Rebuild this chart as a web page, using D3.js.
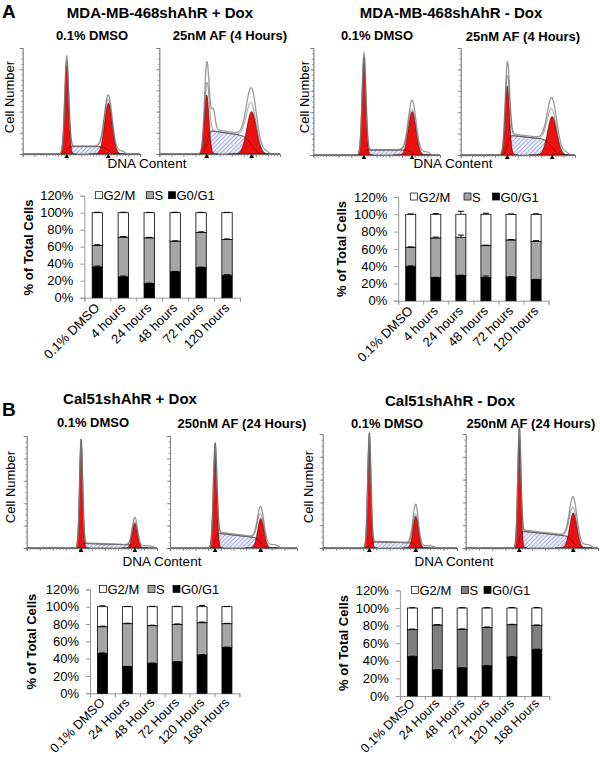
<!DOCTYPE html>
<html><head><meta charset="utf-8">
<script src="https://cdn.jsdelivr.net/npm/d3@7"></script>
<style>body{margin:0;background:#fff} svg{display:block} text{font-family:"Liberation Sans",Arial,Helvetica,sans-serif;fill:#000}</style>
</head><body><svg id="c" width="600" height="757"></svg>
<script>
// ---------------- DATA ----------------
const catsA = ["0.1% DMSO","4 hours","24 hours","48 hours","72 hours","120 hours"];
const catsB = ["0.1% DMSO","24 Hours","48 Hours","72 Hours","120 Hours","168 Hours"];
const phaseNames = ["G2/M","S","G0/G1"];
const yTickVals = [0,20,40,60,80,100,120];

// MDA-MB-468shAhR + Dox
const aPlusG1 = [36.2,24.5,16.7,30.4,35.4,26.5];
const aPlusS  = [25.3,46.7,53.7,36.1,41.3,42.0];
const aPlusG2 = [38.5,28.8,29.6,33.5,23.3,31.5];
const aPlusErrG1 = [1.0,1.0,0.5,0.5,0.6,0.5];
const aPlusErrS  = [0.8,0.8,0.6,0.4,0.8,0.6];
const aPlusErrG2 = [0.5,0.5,0.4,0.5,0.4,0.4];
// MDA-MB-468shAhR - Dox
const aMinusG1 = [39.8,26.6,29.0,27.0,27.4,24.3];
const aMinusS  = [22.0,46.0,44.4,36.7,42.9,44.4];
const aMinusG2 = [38.2,27.4,26.6,36.3,29.7,31.3];
const aMinusErrG1 = [0.4,0.4,0.5,1.5,0.4,0.4];
const aMinusErrS  = [0.5,1.0,2.5,0.6,0.5,0.8];
const aMinusErrG2 = [0.4,0.8,3.5,1.2,0.4,0.5];
// Cal51shAhR + Dox
const bPlusG1 = [46.0,30.8,34.6,36.2,44.2,53.0];
const bPlusS  = [30.9,49.6,43.5,43.4,37.3,27.4];
const bPlusG2 = [23.1,19.6,21.9,20.4,18.5,19.6];
const bPlusErrG1 = [0.6,0.3,0.3,0.3,0.5,0.3];
const bPlusErrS  = [0.6,0.5,0.5,0.5,0.8,0.4];
const bPlusErrG2 = [1.0,0.3,0.4,0.4,1.5,0.3];
// Cal51shAhR - Dox
const bMinusG1 = [44.7,29.5,31.8,34.1,44.3,52.7];
const bMinusS  = [30.7,51.2,44.0,43.9,36.7,27.6];
const bMinusG2 = [24.6,19.3,24.2,22.0,19.0,19.7];
const bMinusErrG1 = [0.5,0.3,0.3,0.3,0.3,0.5];
const bMinusErrS  = [0.6,0.4,0.4,0.4,0.5,0.4];
const bMinusErrG2 = [0.3,0.3,0.3,0.3,0.5,0.5];

// DNA histograms (8 panels: A+DMSO, A+AF, A-DMSO, A-AF, B+DMSO, B+AF, B-DMSO, B-AF)
const histG1Channel = [75, 78.5, 80, 81.5, 83.5, 71, 69.4, 81];
const histG1Height  = [84, 55.7, 89, 64.5, 95, 86.7, 98, 98];
const histG1Raw     = [92, 85.5, 95, 86, 97, 89.6, 100, 100];
const histG1Sigma   = [3.4, 3.8, 3.0, 3.8, 2.4, 2.8, 2.4, 2.4];
const histG2Channel = [146, 153, 156, 160, 166, 143, 138.5, 162.6];
const histG2Height  = [48, 40, 40.5, 36, 22, 26.3, 27.7, 30.7];
const histG2Raw     = [54, 60, 49.5, 51.4, 26.3, 35.1, 37.2, 43];
const histG2Sigma   = [6.5, 8, 6, 8, 4, 5, 4, 5.5];
const histSStart    = [7, 22.6, 4.7, 18.7, 4.2, 13.5, 5.6, 15];
const histSEnd      = [7, 16.3, 4.7, 14, 2.7, 8.8, 4.4, 10];
const histShoulderCh = [0, 89.5, 0, 0, 0, 0, 0, 0];
const histShoulderH  = [0, 18, 0, 0, 0, 0, 0, 0];
const histTail       = [3, 3, 3, 3, 2, 3, 2, 3];

// ---------------- DRAW ----------------
const svg = d3.select("#c");
const FONT = '"Liberation Sans",Arial,Helvetica,sans-serif';
const defs = svg.append("defs");
const pat = defs.append("pattern").attr("id","hatch").attr("patternUnits","userSpaceOnUse")
  .attr("width",3).attr("height",3).attr("patternTransform","rotate(45)");
pat.append("rect").attr("width",3).attr("height",3).attr("fill","#eceefa");
pat.append("line").attr("x1",0).attr("y1",0).attr("x2",0).attr("y2",3)
  .attr("stroke","#6f74c6").attr("stroke-width",1);

function txt(x,y,s,size,weight,anchor,rot){
  const t = svg.append("text").attr("x",x).attr("y",y).text(s)
    .attr("font-size",size).attr("font-weight",weight||"normal")
    .attr("text-anchor",anchor||"middle");
  if(rot!==undefined) t.attr("transform",`rotate(${rot},${x},${y})`);
  return t;
}

// headings
txt(2,18,"A",19,"bold","start");
txt(2,416,"B",19,"bold","start");
txt(160,18,"MDA-MB-468shAhR + Dox",15,"bold");
txt(451,18,"MDA-MB-468shAhR - Dox",15,"bold");
txt(92,40,"0.1% DMSO",13,"bold");
txt(230,40,"25nM AF (4 Hours)",13,"bold");
txt(377,40,"0.1% DMSO",13,"bold");
txt(523,41,"25nM AF (4 Hours)",13,"bold");
txt(130,404,"Cal51shAhR + Dox",15,"bold");
txt(450,406,"Cal51shAhR - Dox",15,"bold");
txt(93,427,"0.1% DMSO",13,"bold");
txt(242,428,"250nM AF (24 Hours)",13,"bold");
txt(387,428,"0.1% DMSO",13,"bold");
txt(531,428,"250nM AF (24 Hours)",13,"bold");

txt(14,97,"Cell Number",13,"normal","middle",-90);
txt(309,97,"Cell Number",13,"normal","middle",-90);
txt(15,487,"Cell Number",13,"normal","middle",-90);
txt(313,487,"Cell Number",13,"normal","middle",-90);
txt(147,168,"DNA Content",13.5,"normal");
txt(453,168,"DNA Content",13.5,"normal");
txt(162,566,"DNA Content",13.5,"normal");
txt(454,566,"DNA Content",13.5,"normal");

function erf(x){const s=Math.sign(x);x=Math.abs(x);const t=1/(1+0.3275911*x);
  const y=1-(((((1.061405429*t-1.453152027)*t)+1.421413741)*t-0.284496736)*t+0.254829592)*t*Math.exp(-x*x);return s*y;}
const Phi = z => 0.5*(1+erf(z/Math.SQRT2));
const gauss = (c,m,s) => Math.exp(-0.5*((c-m)/s)**2);

function drawHist(i,L,R,top,base){
  const g = svg.append("g");
  const x = d3.scaleLinear([0,200],[L,R]);
  const y = d3.scaleLinear([0,100],[base,top]);
  const m1=histG1Channel[i], s1=histG1Sigma[i], m2=histG2Channel[i], s2=histG2Sigma[i];
  const sLvl = c => {
    const t = Math.max(0,Math.min(1,(c-m1)/(m2-m1)));
    return (histSStart[i]+(histSEnd[i]-histSStart[i])*t)*Phi((c-m1)/s1)*(1-Phi((c-m2)/s2));
  };
  const G1 = c => histG1Height[i]*gauss(c,m1,s1);
  const G2 = c => histG2Height[i]*gauss(c,m2,s2);
  const model = c => G1(c)+G2(c)+sLvl(c);
  const ex1 = Math.max(0, histG1Raw[i]-model(m1));
  const ex2 = Math.max(0, histG2Raw[i]-model(m2));
  const raw = c => model(c) + ex1*gauss(c,m1,s1*1.1) + ex2*gauss(c,m2,s2*1.1)
      + sLvl(c)*0.08 + histShoulderH[i]*gauss(c,histShoulderCh[i],3)
      + histTail[i]*Phi((c-m2)/s2)*(1-Phi((c-(m2+28))/3));
  const cs = d3.range(0,200.01,0.4);
  const area = f => d3.area().x(c=>x(c)).y0(base).y1(c=>y(f(c)))(cs);
  const line = f => d3.line().x(c=>x(c)).y(c=>y(f(c)))(cs);
  // S phase hatched
  g.append("path").attr("d",area(sLvl)).attr("fill","url(#hatch)").attr("stroke","#333").attr("stroke-width",0.6);
  // G1 & G2
  const c1 = d3.range(m1-5*s1,m1+5*s1,0.2), c2 = d3.range(m2-5*s2,m2+5*s2,0.2);
  g.append("path").attr("d",d3.area().x(c=>x(c)).y0(base).y1(c=>y(G1(c)))(c1))
    .attr("fill","#ee1010").attr("stroke","#3a0000").attr("stroke-width",0.6);
  g.append("path").attr("d",d3.area().x(c=>x(c)).y0(base).y1(c=>y(G2(c)))(c2))
    .attr("fill","#ee1010").attr("stroke","#3a0000").attr("stroke-width",0.6);
  g.append("path").attr("d",line(sLvl)).attr("fill","none").attr("stroke","#3a0000").attr("stroke-width",0.5).attr("opacity",0.8);
  // raw + model outlines
  g.append("path").attr("d",line(raw)).attr("fill","none").attr("stroke","#9a9a9a").attr("stroke-width",1.3);
  g.append("path").attr("d",line(model)).attr("fill","none").attr("stroke","#555").attr("stroke-width",0.6);
  // axes
  const ya = g.append("g").attr("transform",`translate(${L},0)`).call(d3.axisLeft(y).ticks(20).tickSize(1.5).tickFormat(""));
  const ya2 = g.append("g").attr("transform",`translate(${L},0)`).call(d3.axisLeft(y).ticks(5).tickSize(3).tickFormat(""));
  const xa = g.append("g").attr("transform",`translate(0,${base})`).call(d3.axisBottom(x).ticks(40).tickSize(2).tickFormat(""));
  const xa2 = g.append("g").attr("transform",`translate(0,${base})`).call(d3.axisBottom(x).ticks(8).tickSize(3).tickFormat(""));
  [ya,ya2,xa,xa2].forEach(a=>{a.selectAll("path,line").attr("stroke","#777").attr("stroke-width",0.7);});
  xa.select(".domain").attr("stroke","#444");
  // peak markers
  [m1,m2].forEach(m=>{
    g.append("path").attr("d",d3.symbol(d3.symbolTriangle,10)()).attr("transform",`translate(${x(m)},${base+2.5})`).attr("fill","#000");
  });
}

drawHist(0,22.7,140,48,154);
drawHist(1,159.3,280,48,154);
drawHist(2,313.3,440,48,155);
drawHist(3,460.7,575,48,155);
drawHist(4,26.7,157,436,548);
drawHist(5,170,297,436,548);
drawHist(6,322.7,457,434,548);
drawHist(7,465.7,598,434,548);

// ---------------- BAR CHARTS ----------------
function drawBars(cfg){
  const g = svg.append("g").attr("font-family",FONT);
  const rows = cfg.cats.map((c,k)=>({cat:c,g1:cfg.g1[k],s:cfg.s[k],g2:cfg.g2[k],e:[cfg.eg1[k],cfg.es[k],cfg.eg2[k]]}));
  const x = d3.scaleBand(cfg.cats,[cfg.x0,cfg.x1]).paddingInner(0.6).paddingOuter(0.3);
  const yScale = d3.scaleLinear([0,120],[cfg.y0, cfg.y0-(cfg.y0-cfg.y100)*1.2]);
  const keys = ["g1","s","g2"];
  const colors = {g1:"#000", s:cfg.sColor, g2:"#fff"};
  const stack = d3.stack().keys(keys)(rows);
  // y axis
  const ya = g.append("g").attr("transform",`translate(${cfg.x0},0)`)
    .call(d3.axisLeft(yScale).tickValues(yTickVals).tickFormat(d=>d+"%").tickSize(4).tickPadding(7));
  ya.selectAll("text").attr("font-size",13).attr("font-family",FONT).attr("fill","#000");
  ya.selectAll("path,line").attr("stroke","#999");
  // x axis (tick marks between categories)
  const xl = d3.scaleLinear([0,cfg.cats.length],[cfg.x0,cfg.x1]);
  const xa = g.append("g").attr("transform",`translate(0,${cfg.y0})`)
    .call(d3.axisBottom(xl).ticks(cfg.cats.length).tickSize(4).tickFormat(""));
  xa.selectAll("path,line").attr("stroke","#999");
  // bars
  stack.forEach(layer=>{
    g.append("g").selectAll("rect").data(layer).join("rect")
      .attr("x",d=>x(d.data.cat)).attr("width",x.bandwidth())
      .attr("y",d=>yScale(d[1])).attr("height",d=>yScale(d[0])-yScale(d[1]))
      .attr("fill",colors[layer.key]).attr("stroke","#000").attr("stroke-width",0.8);
  });
  // error bars
  stack.forEach((layer,li)=>{
    layer.forEach(d=>{
      const cx = x(d.data.cat)+x.bandwidth()/2;
      const top = d[1], err = d.data.e[li];
      g.append("line").attr("x1",cx).attr("x2",cx).attr("y1",yScale(top)).attr("y2",yScale(top+err)).attr("stroke","#000").attr("stroke-width",0.8);
      g.append("line").attr("x1",cx-3).attr("x2",cx+3).attr("y1",yScale(top+err)).attr("y2",yScale(top+err)).attr("stroke","#000").attr("stroke-width",1);
    });
  });
  // category labels
  g.selectAll("text.cat").data(cfg.cats).join("text").attr("class","cat")
    .attr("text-anchor","end").attr("font-size",cfg.catSize).attr("font-family",FONT)
    .attr("transform",d=>`translate(${x(d)+x.bandwidth()/2+3},${cfg.y0+cfg.catDy}) rotate(-45)`)
    .text(d=>d);
  // y label
  g.append("text").attr("transform",`translate(${cfg.ylx},${cfg.yly}) rotate(-90)`)
    .attr("text-anchor","middle").attr("font-size",13).attr("font-weight","bold").attr("font-family",FONT)
    .text("% of Total Cells");
  // legend
  const ly = yScale(120);
  const legFill = ["#fff", cfg.sColor, "#000"];
  phaseNames.forEach((p,k)=>{
    g.append("rect").attr("x",cfg.legX[k]).attr("y",ly-4).attr("width",7).attr("height",7)
      .attr("fill",legFill[k]).attr("stroke","#000").attr("stroke-width",0.7);
    g.append("text").attr("x",cfg.legX[k]+8).attr("y",ly+4.5).attr("font-size",13).attr("font-family",FONT).text(p);
  });
}

drawBars({cats:catsA,g1:aPlusG1,s:aPlusS,g2:aPlusG2,eg1:aPlusErrG1,es:aPlusErrS,eg2:aPlusErrG2,
  x0:84.4,x1:240,y0:297.7,y100:212.7,sColor:"#a6a6a6",ylx:33,yly:247.5,legX:[95.5,146.5,168.5],catDy:11,catSize:13});
drawBars({cats:catsA,g1:aMinusG1,s:aMinusS,g2:aMinusG2,eg1:aMinusErrG1,es:aMinusErrS,eg2:aMinusErrG2,
  x0:398.2,x1:548.6,y0:300.7,y100:214.3,sColor:"#a6a6a6",ylx:345.5,yly:249,legX:[410.5,464,492.5],catDy:11,catSize:13});
drawBars({cats:catsB,g1:bPlusG1,s:bPlusS,g2:bPlusG2,eg1:bPlusErrG1,es:bPlusErrS,eg2:bPlusErrG2,
  x0:90,x1:239.4,y0:693.3,y100:606.7,sColor:"#a6a6a6",ylx:36,yly:641.7,legX:[99.5,148,173],catDy:10,catSize:12.8});
drawBars({cats:catsB,g1:bMinusG1,s:bMinusS,g2:bMinusG2,eg1:bMinusErrG1,es:bMinusErrS,eg2:bMinusErrG2,
  x0:399.9,x1:549.3,y0:696,y100:608,sColor:"#7f7f7f",ylx:348,yly:643,legX:[411.5,461.5,484],catDy:8,catSize:12.6});
</script></body></html>
